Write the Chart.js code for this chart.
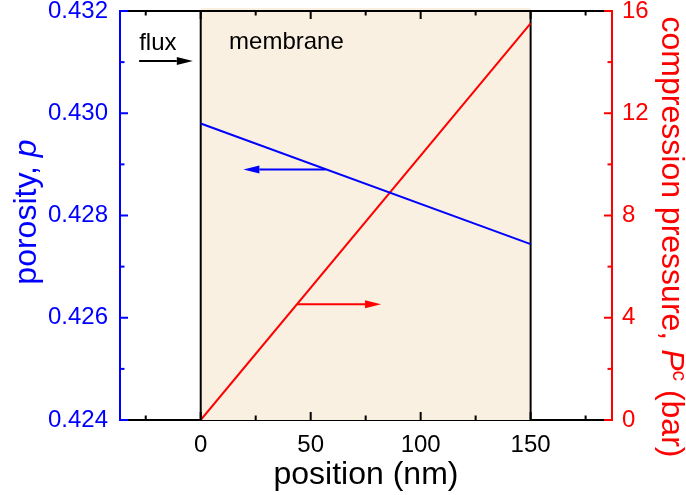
<!DOCTYPE html>
<html>
<head>
<meta charset="utf-8">
<script src="https://cdn.jsdelivr.net/npm/chart.js@4.4.1/dist/chart.umd.min.js"></script>
<style>
  html, body { margin: 0; padding: 0; background: #fff; }
  #chart { display: block; }
</style>
</head>
<body>
<canvas id="chart" width="686" height="495"></canvas>
<script>
// data
const positions = [0, 150];             // nm
const porosity = [0.4298, 0.42744];
const pressure = [0, 15.52];            // bar

const xTicks = [0, 50, 100, 150];
const xMinorTicks = [-25, 25, 75, 125, 175];
const porosityTicks = [0.424, 0.426, 0.428, 0.430, 0.432];
const porosityMinor = [0.425, 0.427, 0.429, 0.431];
const pressureTicks = [0, 4, 8, 12, 16];
const pressureMinor = [2, 6, 10, 14];

const membrane = [0, 150];

// arrows and labels in data units
const fluxArrow = { from: -28, to: -3.6, y: 0.43102, axis: 'y', color: '#000000' };
const porosityArrow = { from: 56.8, to: 19.4, y: 0.4289, axis: 'y', color: '#0000ff' };
const pressureArrow = { from: 43.9, to: 82, y: 4.53, axis: 'y1', color: '#ff0000' };
const labels = [
  { text: 'flux', x: -28, y: 0.43137 },
  { text: 'membrane', x: 12.9, y: 0.43139 }
];

const FONT = '"Liberation Sans", Arial, sans-serif';
const BLUE = '#0000ff';
const RED = '#ff0000';

function drawArrow(ctx, chart, a) {
  const xs = chart.scales.x;
  const ys = chart.scales[a.axis];
  const x0 = xs.getPixelForValue(a.from);
  const x1 = xs.getPixelForValue(a.to);
  const y = ys.getPixelForValue(a.y);
  const dir = x1 > x0 ? 1 : -1;
  const headLen = 16, headHalf = 4;
  ctx.strokeStyle = a.color;
  ctx.fillStyle = a.color;
  ctx.lineWidth = 2;
  ctx.beginPath();
  ctx.moveTo(x0, y);
  ctx.lineTo(x1 - dir * headLen, y);
  ctx.stroke();
  ctx.beginPath();
  ctx.moveTo(x1, y);
  ctx.lineTo(x1 - dir * headLen, y - headHalf);
  ctx.lineTo(x1 - dir * headLen, y + headHalf);
  ctx.closePath();
  ctx.fill();
}

// no automatic label padding, the plot box is fixed
function noPad(s) {
  s.paddingTop = 0;
  s.paddingBottom = 0;
  s.paddingLeft = 0;
  s.paddingRight = 0;
}

const figurePlugin = {
  id: 'figure',
  beforeDatasetsDraw(chart) {
    const { ctx, chartArea } = chart;
    const xs = chart.scales.x;
    const l = xs.getPixelForValue(membrane[0]);
    const r = xs.getPixelForValue(membrane[1]);
    ctx.save();
    ctx.fillStyle = '#faf0e1';
    ctx.fillRect(l, chartArea.top - 3, r - l, chartArea.bottom - chartArea.top + 3);
    ctx.strokeStyle = '#000';
    ctx.lineWidth = 2;
    membrane.forEach(v => {
      const px = xs.getPixelForValue(v);
      ctx.beginPath();
      ctx.moveTo(px, chartArea.top);
      ctx.lineTo(px, chartArea.bottom);
      ctx.stroke();
    });
    ctx.restore();
  },
  afterDraw(chart) {
    const { ctx, chartArea } = chart;
    const xs = chart.scales.x, y0 = chart.scales.y, y1 = chart.scales.y1;
    const { left, right, top, bottom } = chartArea;
    ctx.save();

    // top frame line
    ctx.strokeStyle = '#000';
    ctx.lineWidth = 2;
    ctx.beginPath();
    ctx.moveTo(left, top);
    ctx.lineTo(right, top);
    ctx.stroke();

    // inward ticks
    const tick = (x1, yA, x2, yB, color) => {
      ctx.strokeStyle = color;
      ctx.beginPath();
      ctx.moveTo(x1, yA);
      ctx.lineTo(x2, yB);
      ctx.stroke();
    };
    xTicks.forEach(v => {
      const p = xs.getPixelForValue(v);
      tick(p, bottom, p, bottom - 8, '#000');
      tick(p, top, p, top + 8, '#000');
    });
    xMinorTicks.forEach(v => {
      const p = xs.getPixelForValue(v);
      tick(p, bottom, p, bottom - 4.5, '#000');
      tick(p, top, p, top + 4.5, '#000');
    });
    porosityTicks.forEach(v => {
      const p = y0.getPixelForValue(v);
      tick(left, p, left + 8, p, BLUE);
    });
    porosityMinor.forEach(v => {
      const p = y0.getPixelForValue(v);
      tick(left, p, left + 4.5, p, BLUE);
    });
    pressureTicks.forEach(v => {
      const p = y1.getPixelForValue(v);
      tick(right, p, right - 8, p, RED);
    });
    pressureMinor.forEach(v => {
      const p = y1.getPixelForValue(v);
      tick(right, p, right - 4.5, p, RED);
    });

    // arrows
    [fluxArrow, porosityArrow, pressureArrow].forEach(a => drawArrow(ctx, chart, a));

    // text labels inside the plot
    ctx.fillStyle = '#000';
    ctx.font = '24px ' + FONT;
    ctx.textAlign = 'left';
    ctx.textBaseline = 'middle';
    labels.forEach(t => {
      ctx.fillText(t.text, xs.getPixelForValue(t.x), y0.getPixelForValue(t.y));
    });

    // axis titles
    ctx.textBaseline = 'alphabetic';
    ctx.textAlign = 'center';
    ctx.font = '32px ' + FONT;
    ctx.fillStyle = '#000';
    ctx.fillText('position (nm)', (left + right) / 2, 484);

    // left title: porosity, p
    ctx.save();
    ctx.translate(36, 212);
    ctx.rotate(-Math.PI / 2);
    ctx.fillStyle = BLUE;
    ctx.textAlign = 'left';
    const a1 = 'porosity, ';
    ctx.font = '32px ' + FONT;
    const w1 = ctx.measureText(a1).width;
    ctx.font = 'italic 32px ' + FONT;
    const w2 = ctx.measureText('p').width;
    let x = -(w1 + w2) / 2;
    ctx.font = '32px ' + FONT;
    ctx.fillText(a1, x, 0);
    ctx.font = 'italic 32px ' + FONT;
    ctx.fillText('p', x + w1, 0);
    ctx.restore();

    // right title: compression pressure, P^c (bar)
    ctx.save();
    ctx.translate(662, 237);
    ctx.rotate(Math.PI / 2);
    ctx.fillStyle = RED;
    ctx.textAlign = 'left';
    const parts = [
      { t: 'compression pressure, ', f: '32px ' + FONT, dy: 0 },
      { t: 'P', f: 'italic 32px ' + FONT, dy: 0 },
      { t: 'c', f: '21px ' + FONT, dy: -11 },
      { t: ' (bar)', f: '32px ' + FONT, dy: 0 }
    ];
    let total = 0;
    parts.forEach(p => { ctx.font = p.f; p.w = ctx.measureText(p.t).width; total += p.w; });
    x = -total / 2;
    parts.forEach(p => {
      ctx.font = p.f;
      ctx.fillText(p.t, x, p.dy);
      x += p.w;
    });
    ctx.restore();

    ctx.restore();
  }
};

new Chart(document.getElementById('chart'), {
  type: 'line',
  data: {
    datasets: [
      {
        label: 'porosity',
        data: positions.map((x, i) => ({ x, y: porosity[i] })),
        borderColor: BLUE,
        borderWidth: 2,
        pointRadius: 0,
        yAxisID: 'y'
      },
      {
        label: 'compression pressure',
        data: positions.map((x, i) => ({ x, y: pressure[i] })),
        borderColor: RED,
        borderWidth: 2,
        pointRadius: 0,
        yAxisID: 'y1'
      }
    ]
  },
  options: {
    responsive: false,
    animation: false,
    layout: { padding: { top: 11, left: 0, right: 0, bottom: 0 }, autoPadding: false },
    plugins: { legend: { display: false }, tooltip: { enabled: false } },
    scales: {
      x: {
        type: 'linear',
        min: -36.7,
        max: 187,
        grid: { display: false, drawTicks: false },
        border: { display: true, color: '#000', width: 2 },
        afterBuildTicks: s => { s.ticks = xTicks.map(v => ({ value: v })); },
        afterFit: s => { s.height = 75; noPad(s); },
        ticks: { color: '#000', font: { family: FONT, size: 24 }, padding: 11, maxRotation: 0 }
      },
      y: {
        position: 'left',
        min: 0.424,
        max: 0.432,
        grid: { display: false, drawTicks: false },
        border: { display: true, color: BLUE, width: 2 },
        afterBuildTicks: s => { s.ticks = porosityTicks.map(v => ({ value: v })); },
        afterFit: s => { s.width = 120; noPad(s); },
        ticks: {
          color: BLUE,
          font: { family: FONT, size: 24 },
          padding: 12,
          callback: v => v.toFixed(3)
        }
      },
      y1: {
        position: 'right',
        min: 0,
        max: 16,
        grid: { display: false, drawTicks: false },
        border: { display: true, color: RED, width: 2 },
        afterBuildTicks: s => { s.ticks = pressureTicks.map(v => ({ value: v })); },
        afterFit: s => { s.width = 74; noPad(s); },
        ticks: { color: RED, font: { family: FONT, size: 24 }, padding: 10 }
      }
    }
  },
  plugins: [figurePlugin]
});
</script>
</body>
</html>
